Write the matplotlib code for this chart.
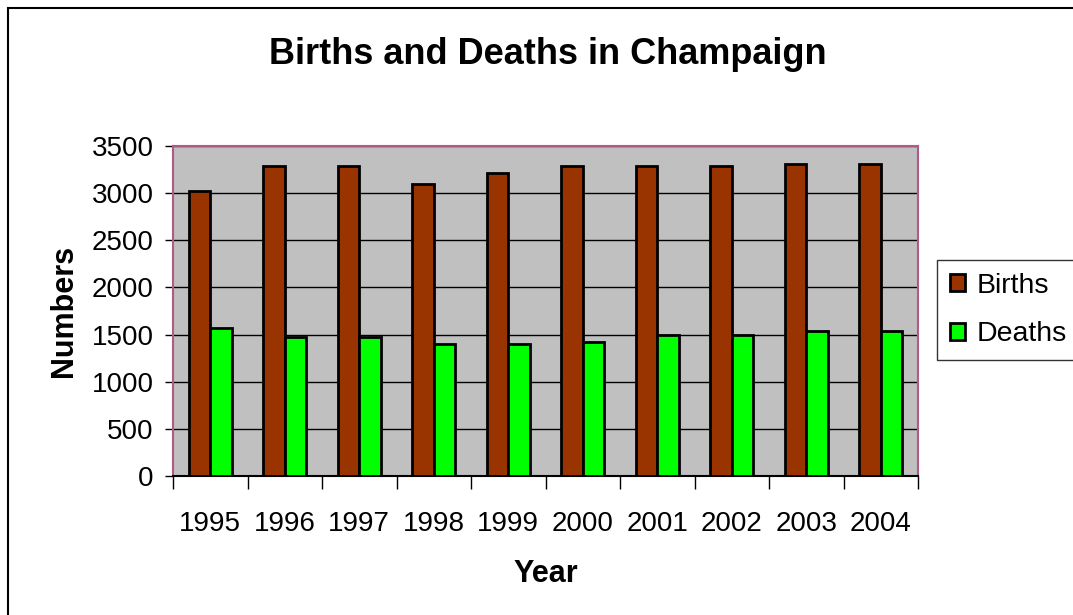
import matplotlib.pyplot as plt
import numpy as np
from matplotlib.patches import Rectangle

years = ["1995", "1996", "1997", "1998", "1999", "2000", "2001", "2002", "2003", "2004"]
births = [3020, 3285, 3285, 3095, 3215, 3285, 3285, 3285, 3310, 3310]
deaths = [1565, 1470, 1470, 1400, 1400, 1425, 1495, 1495, 1540, 1540]

plt.rcParams['font.family'] = ['Liberation Sans', 'DejaVu Sans']

fig = plt.figure(figsize=(10.73, 6.15), dpi=100)
ax = fig.add_axes([173/1073, 1 - 476/615, (918-173)/1073, (476-146)/615])

x = np.arange(len(years))
w = 0.29
b1 = ax.bar(x - w/2, births, w, color="#993300", edgecolor="black", linewidth=2, label="Births", zorder=3)
b2 = ax.bar(x + w/2, deaths, w, color="#00FF00", edgecolor="black", linewidth=2, label="Deaths", zorder=3)

ax.set_xlim(-0.5, len(years) - 0.5)
ax.set_ylim(0, 3500)
ax.set_facecolor("#C0C0C0")
ax.set_yticks(range(0, 3501, 500))
ax.yaxis.grid(True, color="black", linewidth=1)
ax.set_axisbelow(True)
for s in ax.spines.values():
    s.set_color("#B05A8A")
    s.set_linewidth(1.5)
ax.spines["bottom"].set_color("black")

ax.set_xticks(x)
ax.set_xticklabels(years)
ax.set_xticks(np.arange(-0.5, len(years)), minor=True)
ax.tick_params(axis="x", which="major", length=0, labelsize=20, pad=25)
ax.tick_params(axis="x", which="minor", length=9, width=1, color="black")
ax.tick_params(axis="y", length=6, width=1, labelsize=20, pad=8)

ax.set_xlabel("Year", fontsize=22, fontweight="bold", labelpad=16)
ax.set_ylabel("Numbers", fontsize=22, fontweight="bold", labelpad=9)
fig.text(548/1073, 1 - 55/615, "Births and Deaths in Champaign", fontsize=26,
         fontweight="bold", ha="center", va="center")

leg = fig.legend(handles=[b1, b2], loc="center left", bbox_to_anchor=(937/1073, 1 - 310/615),
                 fontsize=20.5, frameon=True, fancybox=False, edgecolor="black",
                 handlelength=0.55, handleheight=0.55, handletextpad=0.4, labelspacing=0.8,
                 borderpad=0.45, borderaxespad=0)
leg.get_frame().set_linewidth(1)

fig.patches.append(Rectangle((8/1073, -0.1), 1.2, 1 - 8/615 + 0.1, transform=fig.transFigure,
                             fill=False, edgecolor="black", linewidth=1.5))

fig.savefig("out.png", dpi=100)
